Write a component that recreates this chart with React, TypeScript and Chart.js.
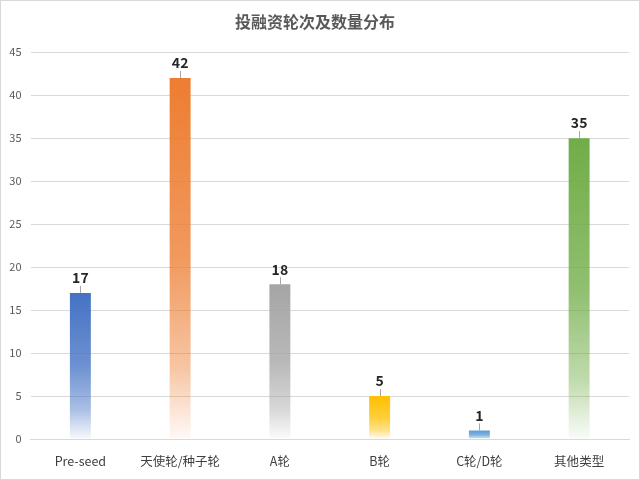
import React, { useEffect, useRef } from "react";
import { Chart, registerables } from "chart.js";

Chart.register(...registerables);

const titleText = "投融资轮次及数量分布";
const categories = ["Pre-seed", "天使轮/种子轮", "A轮", "B轮", "C轮/D轮", "其他类型"];
const counts = [17, 42, 18, 5, 1, 35];
const barColors = ["#4472C4", "#ED7D31", "#A5A5A5", "#FFC000", "#5B9BD5", "#70AD47"];
const yMax = 45;
const yStep = 5;

const FONT = "'Noto Sans CJK SC', 'Noto Sans', sans-serif";

function hexToRgba(hex: string, a: number) {
  const n = parseInt(hex.slice(1), 16);
  return `rgba(${(n >> 16) & 255},${(n >> 8) & 255},${n & 255},${a})`;
}

const labelPlugin = {
  id: "barLabels",
  afterDatasetsDraw(chart: any) {
    const ctx = chart.ctx;
    const meta = chart.getDatasetMeta(0);
    ctx.save();
    meta.data.forEach((el: any, i: number) => {
      const x = el.x;
      const y = el.y;
      ctx.strokeStyle = "#A6A6A6";
      ctx.lineWidth = 1;
      ctx.beginPath();
      ctx.moveTo(Math.round(x) + 0.5, y);
      ctx.lineTo(Math.round(x) + 0.5, y - 7);
      ctx.stroke();
      ctx.fillStyle = "#262626";
      ctx.font = `bold 14px ${FONT}`;
      ctx.textAlign = "center";
      ctx.textBaseline = "bottom";
      ctx.fillText(String(counts[i]), x, y - 8);
    });
    ctx.restore();
  },
};

export default function App() {
  const ref = useRef<HTMLCanvasElement | null>(null);
  useEffect(() => {
    if (!ref.current) return;
    const chart = new Chart(ref.current, {
      type: "bar",
      data: {
        labels: categories,
        datasets: [
          {
            data: counts,
            barPercentage: 0.21,
            categoryPercentage: 1,
            backgroundColor: (c: any) => {
              const chart = c.chart;
              const color = barColors[c.dataIndex];
              const ys = chart.scales && chart.scales.y;
              if (!ys || c.raw == null) return color;
              const top = ys.getPixelForValue(c.raw);
              const base = ys.getPixelForValue(0);
              if (!isFinite(top) || !isFinite(base) || base - top < 1) return color;
              const g = chart.ctx.createLinearGradient(0, top, 0, base);
              g.addColorStop(0, hexToRgba(color, 1));
              g.addColorStop(0.5, hexToRgba(color, 0.78));
              g.addColorStop(0.8, hexToRgba(color, 0.45));
              g.addColorStop(1, hexToRgba(color, 0.04));
              return g;
            },
            borderWidth: 0,
          },
        ],
      },
      options: {
        responsive: false,
        animation: false,
        layout: { padding: { left: 0, right: 10, top: 0, bottom: 0 } },
        plugins: {
          legend: { display: false },
          tooltip: { enabled: false },
          title: {
            display: true,
            text: titleText,
            color: "#595959",
            font: { family: FONT, size: 16, weight: "bold" },
            padding: { top: 11, bottom: 21 },
          },
        },
        scales: {
          x: {
            grid: { display: false, drawTicks: false },
            border: { display: true, color: "#D9D9D9" },
            ticks: {
              color: "#404040",
              font: { family: FONT, size: 12.5 },
              padding: 15,
              maxRotation: 0,
              autoSkip: false,
            },
            afterFit: (s: any) => {
              s.height = 40;
            },
          },
          y: {
            min: 0,
            max: yMax,
            grid: { color: "#D9D9D9", drawTicks: false },
            border: { display: false },
            ticks: {
              stepSize: yStep,
              color: "#595959",
              font: { family: FONT, size: 11 },
              padding: 9,
            },
            afterFit: (s: any) => {
              s.width = 29.5;
            },
          },
        },
      },
      plugins: [labelPlugin],
    });
    return () => chart.destroy();
  }, []);
  return (
    <div
      style={{
        position: "absolute",
        left: 0,
        top: 0,
        width: 640,
        height: 480,
        background: "#fff",
        boxSizing: "border-box",
        border: "1px solid #D9D9D9",
        overflow: "hidden",
      }}
    >
      <canvas ref={ref} width={638} height={478} style={{ display: "block" }} />
    </div>
  );
}
